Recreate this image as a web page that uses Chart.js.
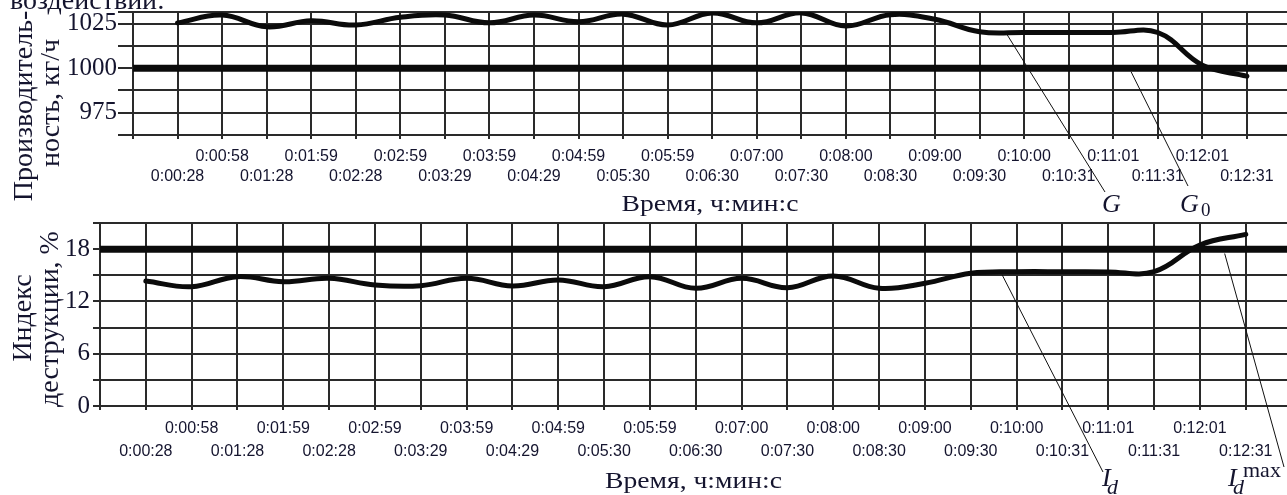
<!DOCTYPE html>
<html lang="ru">
<head>
<meta charset="utf-8">
<script src="https://cdn.jsdelivr.net/npm/chart.js@4.4.1/dist/chart.umd.min.js"></script>
<style>
  html, body { margin: 0; padding: 0; background: #fff; }
  #wrap { position: relative; width: 1287px; height: 495px; overflow: hidden; }
  .box { position: absolute; left: 0; width: 1287px; }
  #topBox { top: 0; height: 218px; }
  #botBox { top: 218px; height: 277px; }
</style>
</head>
<body>
<div id="wrap">
  <div class="box" id="topBox"><canvas id="gChart"></canvas></div>
  <div class="box" id="botBox"><canvas id="idChart"></canvas></div>
</div>
<script>
// time axis, ч:мин:с (tick 0 sits on the value axis, no label)
const timeLabels = ['', '0:00:28', '0:00:58', '0:01:28', '0:01:59', '0:02:28', '0:02:59',
  '0:03:29', '0:03:59', '0:04:29', '0:04:59', '0:05:30', '0:05:59', '0:06:30', '0:07:00',
  '0:07:30', '0:08:00', '0:08:30', '0:09:00', '0:09:30', '0:10:00', '0:10:31', '0:11:01',
  '0:11:31', '0:12:01', '0:12:31'];

// throughput G, кг/ч, one value per time tick starting at 0:00:28
const gValues = [1025.4, 1029.8, 1023.2, 1026.6, 1024.2, 1028.5, 1029.8, 1025.4, 1029.8,
  1026.0, 1030.3, 1024.2, 1031.0, 1025.4, 1031.0, 1023.6, 1030.0, 1027.4, 1020.4, 1020.0,
  1020.0, 1020.0, 1020.0, 1001.7, 995.5];
const g0Value = 1000;

// destruction index Id, %, same time ticks
const idValues = [14.34, 13.69, 14.84, 14.26, 14.65, 13.89, 13.81, 14.65, 13.77, 14.46,
  13.69, 14.84, 13.51, 14.65, 13.58, 14.92, 13.51, 14.08, 15.23, 15.41, 15.41, 15.38,
  15.41, 18.48, 19.70];
const idMaxValue = 18;

const SERIF = '"Liberation Serif", "Times New Roman", serif';
const SANS = '"Liberation Sans", Arial, sans-serif';
const INK = '#14142e';
const GRID = '#2a2a2a';
const X_MAX = 25.9;   // axis runs a bit past the last tick, to the right edge

const seriesPoints = vals => vals.map((v, i) => ({ x: i + 1, y: v }));
const limitPoints = v => [{ x: 0, y: v }, { x: X_MAX, y: v }];

// free text, rotated captions, leader lines
const annotate = {
  id: 'annotate',
  afterDatasetsDraw(chart, args, opts) {
    const { ctx, chartArea, scales: { x, y } } = chart;
    ctx.save();
    ctx.fillStyle = INK;
    ctx.strokeStyle = '#111';
    ctx.lineWidth = 1;
    (opts.leaders || []).forEach(l => {
      ctx.beginPath();
      ctx.moveTo(x.getPixelForValue(l.at[0]), y.getPixelForValue(l.at[1]));
      ctx.lineTo(l.to[0], l.to[1]);
      ctx.stroke();
    });
    ctx.textBaseline = 'alphabetic';
    (opts.texts || []).forEach(t => {
      ctx.font = `${t.italic ? 'italic ' : ''}${t.size}px ${SERIF}`;
      const px = t.x === 'mid' ? (chartArea.left + chartArea.right) / 2 : t.x;
      ctx.save();
      ctx.translate(px, t.y);
      ctx.scale(t.sx || 1, 1);
      if (t.rotate) ctx.rotate(-Math.PI / 2);
      ctx.textAlign = t.rotate || t.x === 'mid' ? 'center' : 'left';
      ctx.fillText(t.t, 0, 0);
      ctx.restore();
    });
    ctx.restore();
  }
};

function timeAxis(opt) {
  return {
    type: 'linear',
    bounds: 'data',
    min: 0,
    max: X_MAX,
    afterFit: s => { s.height = opt.height; s.paddingLeft = 0; s.paddingRight = 0; },
    border: { display: true, color: GRID, width: 2 },
    grid: { color: GRID, lineWidth: 2, drawTicks: true, tickLength: 4, tickColor: GRID },
    ticks: {
      stepSize: 1,
      includeBounds: false,
      autoSkip: false,
      maxRotation: 0,
      padding: opt.padding,
      color: INK,
      font: { family: SANS, size: 16, lineHeight: opt.lineHeight },
      // labels alternate between two rows
      callback: v => {
        const lbl = timeLabels[v] || '';
        return v % 2 === 0 ? [lbl, ''] : ['', lbl];
      }
    }
  };
}

function valueAxis(opt) {
  return {
    type: 'linear',
    bounds: 'data',
    min: opt.min,
    max: opt.max,
    afterFit: s => { s.width = opt.width; s.paddingTop = 0; s.paddingBottom = 0; },
    border: { display: true, color: GRID, width: 2 },
    grid: { color: GRID, lineWidth: 2, drawTicks: true, tickLength: opt.tickLength, tickColor: GRID },
    ticks: {
      stepSize: opt.step,
      includeBounds: false,
      autoSkip: false,
      padding: opt.padding,
      color: INK,
      font: { family: SERIF, size: 25 },
      callback: v => (v % opt.labelEvery === 0 ? v : '')
    }
  };
}

const lineStyle = {
  borderColor: '#0b0b0b',
  pointRadius: 0,
  borderCapStyle: 'round',
  borderJoinStyle: 'round',
  clip: 0
};

new Chart(document.getElementById('gChart'), {
  type: 'line',
  data: {
    datasets: [
      Object.assign({ label: 'G0', data: limitPoints(g0Value), borderWidth: 7, tension: 0 }, lineStyle),
      Object.assign({ label: 'G', data: seriesPoints(gValues), borderWidth: 5, tension: 0.4 }, lineStyle)
    ]
  },
  options: {
    responsive: true,
    maintainAspectRatio: false,
    devicePixelRatio: 1,
    animation: false,
    layout: { padding: { top: 12, left: 0, right: 0, bottom: 0 } },
    scales: {
      x: timeAxis({ height: 83, padding: 7.5, lineHeight: 20 / 16 }),
      y: valueAxis({ min: 962.5, max: 1031.5, step: 12.5, labelEvery: 25, width: 133, tickLength: 15, padding: 1 })
    },
    plugins: {
      legend: { display: false },
      tooltip: { enabled: false },
      annotate: {
        leaders: [
          { at: [19.6, 1019.5], to: [1105, 192] },
          { at: [22.4, 998], to: [1188, 186] }
        ],
        texts: [
          { t: 'воздействий:', x: 10, y: 8.5, size: 28 },
          { t: 'Производитель-', x: 32, y: 106, size: 28, rotate: true },
          { t: 'ность, кг/ч', x: 59, y: 103, size: 28, rotate: true },
          { t: 'Время, ч:мин:с', x: 'mid', y: 211, size: 23, sx: 1.2 },
          { t: 'G', x: 1102, y: 212, size: 26, italic: true },
          { t: 'G', x: 1180, y: 212, size: 26, italic: true },
          { t: '0', x: 1201, y: 216, size: 19 }
        ]
      }
    }
  },
  plugins: [annotate]
});

new Chart(document.getElementById('idChart'), {
  type: 'line',
  data: {
    datasets: [
      Object.assign({ label: 'Id max', data: limitPoints(idMaxValue), borderWidth: 7, tension: 0 }, lineStyle),
      Object.assign({ label: 'Id', data: seriesPoints(idValues), borderWidth: 5, tension: 0.4 }, lineStyle)
    ]
  },
  options: {
    responsive: true,
    maintainAspectRatio: false,
    devicePixelRatio: 1,
    animation: false,
    layout: { padding: { top: 5, left: 0, right: 0, bottom: 0 } },
    scales: {
      x: timeAxis({ height: 89, padding: 7, lineHeight: 23 / 16 }),
      y: valueAxis({ min: 0, max: 21, step: 3, labelEvery: 6, width: 100, tickLength: 7, padding: 3 })
    },
    plugins: {
      legend: { display: false },
      tooltip: { enabled: false },
      annotate: {
        leaders: [
          { at: [19.68, 15.1], to: [1103, 254] },
          { at: [24.54, 17.5], to: [1284, 249] }
        ],
        texts: [
          { t: 'Индекс', x: 31, y: 100, size: 28, rotate: true },
          { t: 'деструкции, %', x: 58, y: 101, size: 28, rotate: true },
          { t: 'Время, ч:мин:с', x: 'mid', y: 270, size: 23, sx: 1.2 },
          { t: 'I', x: 1102, y: 268, size: 26, italic: true },
          { t: 'd', x: 1107, y: 276, size: 22, italic: true },
          { t: 'I', x: 1228, y: 268, size: 26, italic: true },
          { t: 'd', x: 1233, y: 276, size: 22, italic: true },
          { t: 'max', x: 1243, y: 259, size: 22 }
        ]
      }
    }
  },
  plugins: [annotate]
});
</script>
</body>
</html>
